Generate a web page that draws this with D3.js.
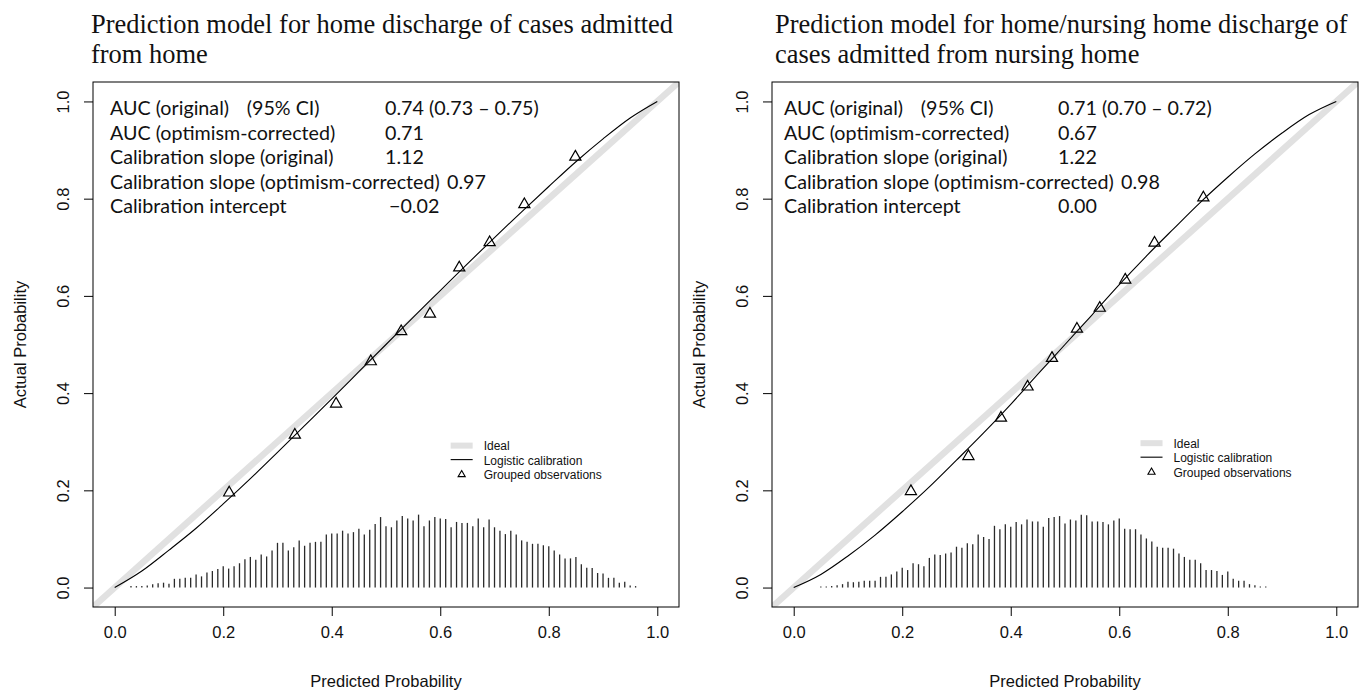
<!DOCTYPE html>
<html><head><meta charset="utf-8">
<script src="https://cdn.jsdelivr.net/npm/d3@7"></script>
<style>body{margin:0;background:#fff;} svg{display:block;}</style>
</head><body><svg id="c" width="1363" height="692"></svg>
<script>
// ---------- DATA ----------
const tickValues = [0, 0.2, 0.4, 0.6, 0.8, 1.0];
const tickLabels = ["0.0", "0.2", "0.4", "0.6", "0.8", "1.0"];
const xAxisTitle = "Predicted Probability";
const yAxisTitle = "Actual Probability";
const legendLabels = ["Ideal", "Logistic calibration", "Grouped observations"];
const ciLabel = "(95% CI)";

const leftTitle = ["Prediction model for home discharge of cases admitted", "from home"];
const rightTitle = ["Prediction model for home/nursing home discharge of", "cases admitted from nursing home"];

const statLabels = ["AUC (original)", "AUC (optimism-corrected)", "Calibration slope (original)",
  "Calibration slope (optimism-corrected)", "Calibration intercept"];
const leftStatValues = ["0.74 (0.73 \u2013 0.75)", "0.71", "1.12", "0.97", "\u22120.02"];
const rightStatValues = ["0.71 (0.70 \u2013 0.72)", "0.67", "1.22", "0.98", "0.00"];

// grouped observations
const leftGroupX = [0.211, 0.332, 0.408, 0.472, 0.528, 0.581, 0.635, 0.691, 0.755, 0.849];
const leftGroupY = [0.195, 0.314, 0.378, 0.465, 0.527, 0.563, 0.658, 0.710, 0.788, 0.886];
const rightGroupX = [0.216, 0.322, 0.382, 0.431, 0.476, 0.522, 0.564, 0.611, 0.665, 0.755];
const rightGroupY = [0.198, 0.270, 0.349, 0.413, 0.472, 0.532, 0.575, 0.633, 0.709, 0.802];

// logistic calibration curves
const curveX = [0, 0.05, 0.10, 0.15, 0.20, 0.25, 0.30, 0.35, 0.40, 0.45, 0.50, 0.55, 0.60, 0.65, 0.70, 0.75, 0.80, 0.85, 0.90, 0.95, 1.00];
const leftCurveY = [0, 0.034, 0.077, 0.122, 0.172, 0.224, 0.278, 0.333, 0.388, 0.444, 0.500, 0.556, 0.611, 0.666, 0.720, 0.773, 0.825, 0.876, 0.923, 0.966, 1.000];
const rightCurveY = [0, 0.027, 0.065, 0.108, 0.156, 0.207, 0.262, 0.318, 0.377, 0.439, 0.500, 0.561, 0.623, 0.682, 0.738, 0.793, 0.844, 0.892, 0.935, 0.973, 1.000];

// distribution spikes (bin position, scaled height)
const leftSpikeX = [0.03,0.04,0.05,0.06,0.07,0.08,0.09,0.10,0.11,0.12,0.13,0.14,0.15,0.16,0.17,0.18,0.19,0.20,0.21,0.22,0.23,0.24,0.25,0.26,0.27,0.28,0.29,0.30,0.31,0.32,0.33,0.34,0.35,0.36,0.37,0.38,0.39,0.40,0.41,0.42,0.43,0.44,0.45,0.46,0.47,0.48,0.49,0.50,0.51,0.52,0.53,0.54,0.55,0.56,0.57,0.58,0.59,0.60,0.61,0.62,0.63,0.64,0.65,0.66,0.67,0.68,0.69,0.70,0.71,0.72,0.73,0.74,0.75,0.76,0.77,0.78,0.79,0.80,0.81,0.82,0.83,0.84,0.85,0.86,0.87,0.88,0.89,0.90,0.91,0.92,0.93,0.94,0.95,0.96];
const leftSpikeH = [0.003,0.003,0.003,0.004,0.007,0.009,0.010,0.008,0.018,0.018,0.020,0.020,0.027,0.023,0.031,0.034,0.038,0.044,0.039,0.044,0.050,0.058,0.063,0.057,0.068,0.064,0.076,0.092,0.092,0.076,0.083,0.097,0.086,0.092,0.094,0.094,0.109,0.111,0.111,0.117,0.111,0.114,0.121,0.109,0.119,0.131,0.145,0.126,0.124,0.138,0.147,0.142,0.138,0.150,0.126,0.138,0.145,0.142,0.141,0.124,0.135,0.133,0.133,0.126,0.142,0.124,0.140,0.124,0.117,0.110,0.117,0.109,0.097,0.094,0.090,0.090,0.087,0.085,0.076,0.068,0.060,0.060,0.063,0.048,0.041,0.040,0.030,0.029,0.020,0.020,0.010,0.012,0.004,0.003];
const rightSpikeX = [0.05,0.06,0.07,0.08,0.09,0.10,0.11,0.12,0.13,0.14,0.15,0.16,0.17,0.18,0.19,0.20,0.21,0.22,0.23,0.24,0.25,0.26,0.27,0.28,0.29,0.30,0.31,0.32,0.33,0.34,0.35,0.36,0.37,0.38,0.39,0.40,0.41,0.42,0.43,0.44,0.45,0.46,0.47,0.48,0.49,0.50,0.51,0.52,0.53,0.54,0.55,0.56,0.57,0.58,0.59,0.60,0.61,0.62,0.63,0.64,0.65,0.66,0.67,0.68,0.69,0.70,0.71,0.72,0.73,0.74,0.75,0.76,0.77,0.78,0.79,0.80,0.81,0.82,0.83,0.84,0.85,0.86,0.87];
const rightSpikeH = [0.002,0.002,0.003,0.005,0.007,0.012,0.011,0.012,0.014,0.014,0.014,0.022,0.022,0.027,0.033,0.041,0.036,0.050,0.048,0.044,0.061,0.068,0.067,0.070,0.072,0.084,0.082,0.091,0.089,0.109,0.104,0.100,0.127,0.120,0.130,0.125,0.135,0.130,0.140,0.136,0.136,0.125,0.143,0.145,0.147,0.132,0.140,0.138,0.150,0.149,0.136,0.136,0.135,0.130,0.138,0.142,0.121,0.120,0.120,0.109,0.101,0.095,0.084,0.082,0.082,0.080,0.070,0.063,0.057,0.057,0.050,0.036,0.036,0.034,0.026,0.033,0.018,0.014,0.014,0.007,0.005,0.002,0.002];

// ---------- LAYOUT ----------
const svg = d3.select("#c");
const SANS = "'Liberation Sans', Arial, Helvetica, sans-serif";
const SERIF = "'Liberation Serif', 'Times New Roman', serif";
const STAT = "Lato, 'Open Sans', sans-serif";

function textWidth(str, family, size) {
  const t = svg.append("text").attr("font-family", family).attr("font-size", size).text(str);
  const w = t.node().getComputedTextLength();
  t.remove();
  return w;
}
function fitSize(str, family, target) { return 100 * target / textWidth(str, family, 100); }
const titleSize = (fitSize(leftTitle[0], SERIF, 580) + fitSize(rightTitle[0], SERIF, 575)) / 2;
const statSize = fitSize(statLabels[3], STAT, 330);
const ciOffset = textWidth(statLabels[0], STAT, statSize) + 0.9 * statSize;

const panels = [
  { box: [93, 679, 82, 607], title: leftTitle, titleX: 91, statX: 110,
    valX: [385, 385, 385, 447, 389], values: leftStatValues,
    gx: leftGroupX, gy: leftGroupY, cy: leftCurveY, sx: leftSpikeX, sh: leftSpikeH, legend: [0.68, 0.292] },
  { box: [772, 1358, 82, 607], title: rightTitle, titleX: 775, statX: 784,
    valX: [1058, 1058, 1058, 1121, 1058], values: rightStatValues,
    gx: rightGroupX, gy: rightGroupY, cy: rightCurveY, sx: rightSpikeX, sh: rightSpikeH, legend: [0.70, 0.297] }
];

const tri = d3.symbol().type(d3.symbolTriangle);

panels.forEach((p, pi) => {
  const [bx0, bx1, by0, by1] = p.box;
  const x = d3.scaleLinear().domain([-0.04, 1.04]).range([bx0, bx1]);
  const y = d3.scaleLinear().domain([-0.04, 1.04]).range([by1, by0]);
  const g = svg.append("g");

  // title
  p.title.forEach((t, i) => {
    g.append("text").attr("x", p.titleX).attr("y", 33 + i * 30)
      .attr("font-family", SERIF).attr("font-size", titleSize).attr("fill", "#111").text(t);
  });

  // clip
  const cid = "clip" + pi;
  svg.append("clipPath").attr("id", cid).append("rect")
    .attr("x", bx0).attr("y", by0).attr("width", bx1 - bx0).attr("height", by1 - by0);
  const plot = g.append("g").attr("clip-path", `url(#${cid})`);

  // ideal line
  plot.append("line")
    .attr("x1", x(-0.04)).attr("y1", y(-0.04)).attr("x2", x(1.04)).attr("y2", y(1.04))
    .attr("stroke", "#e1e1e1").attr("stroke-width", 6.5);

  // spikes
  plot.selectAll("line.spike").data(p.sx).enter().append("line").attr("class", "spike")
    .attr("x1", d => x(d)).attr("x2", d => x(d))
    .attr("y1", y(0)).attr("y2", (d, i) => y(p.sh[i]))
    .attr("stroke", "#2a2a2a").attr("stroke-width", 1.3);

  // calibration curve
  const line = d3.line().x(d => x(d[0])).y(d => y(d[1])).curve(d3.curveMonotoneX);
  plot.append("path").datum(curveX.map((v, i) => [v, p.cy[i]]))
    .attr("d", line).attr("fill", "none").attr("stroke", "#000").attr("stroke-width", 1.1);

  // grouped observations
  plot.selectAll("path.tri").data(p.gx).enter().append("path").attr("class", "tri")
    .attr("d", tri.size(54)())
    .attr("transform", (d, i) => `translate(${x(d)},${y(p.gy[i])})`)
    .attr("fill", "none").attr("stroke", "#000").attr("stroke-width", 1.2);

  // box
  g.append("rect").attr("x", bx0).attr("y", by0).attr("width", bx1 - bx0).attr("height", by1 - by0)
    .attr("fill", "none").attr("stroke", "#000").attr("stroke-width", 1);

  // axes
  const xAxis = d3.axisBottom(x).tickValues(tickValues).tickFormat((d, i) => tickLabels[i]).tickSize(9).tickPadding(10);
  const xa = g.append("g").attr("transform", `translate(0,${by1})`).call(xAxis);
  xa.select(".domain").remove();
  xa.selectAll("text").attr("font-family", SANS).attr("font-size", 16.5).attr("fill", "#111");
  xa.selectAll("line").attr("stroke", "#000");

  const yAxis = d3.axisLeft(y).tickValues(tickValues).tickFormat((d, i) => tickLabels[i]).tickSize(9).tickPadding(0);
  const ya = g.append("g").attr("transform", `translate(${bx0},0)`).call(yAxis);
  ya.select(".domain").remove();
  ya.selectAll("line").attr("stroke", "#000");
  ya.selectAll("text").attr("font-family", SANS).attr("font-size", 16.5).attr("fill", "#111")
    .attr("text-anchor", "middle").attr("dy", null).attr("x", null)
    .attr("transform", "translate(-24,0) rotate(-90)");

  // axis titles
  g.append("text").attr("x", (bx0 + bx1) / 2).attr("y", 687).attr("text-anchor", "middle")
    .attr("font-family", SANS).attr("font-size", 16.5).attr("fill", "#111").text(xAxisTitle);
  g.append("text").attr("transform", `translate(${bx0 - 67},${(by0 + by1) / 2}) rotate(-90)`)
    .attr("text-anchor", "middle").attr("font-family", SANS).attr("font-size", 16.5).attr("fill", "#111").text(yAxisTitle);

  // stats
  statLabels.forEach((s, i) => {
    const yy = 115 + i * 24.5;
    g.append("text").attr("x", p.statX).attr("y", yy).attr("font-family", STAT).attr("font-size", statSize).attr("fill", "#111").text(s);
    g.append("text").attr("x", p.valX[i]).attr("y", yy).attr("font-family", STAT).attr("font-size", statSize).attr("fill", "#111").text(p.values[i]);
  });
  g.append("text").attr("x", p.statX + ciOffset).attr("y", 115).attr("font-family", STAT).attr("font-size", statSize).attr("fill", "#111").text(ciLabel);

  // legend
  const lx = x(p.legend[0]), ly = y(p.legend[1]);
  const lg = g.append("g");
  lg.append("rect").attr("x", lx - 33).attr("y", ly - 3).attr("width", 22).attr("height", 6).attr("fill", "#e1e1e1");
  lg.append("line").attr("x1", lx - 33).attr("x2", lx - 11).attr("y1", ly + 14).attr("y2", ly + 14).attr("stroke", "#000").attr("stroke-width", 1.1);
  lg.append("path").attr("d", tri.size(22)()).attr("transform", `translate(${lx - 22},${ly + 29})`)
    .attr("fill", "none").attr("stroke", "#000").attr("stroke-width", 1.1);
  legendLabels.forEach((t, i) => {
    lg.append("text").attr("x", lx).attr("y", ly + 4.5 + i * 14.5).attr("font-family", SANS).attr("font-size", 12)
      .attr("fill", "#111").text(t);
  });
});
</script></body></html>
